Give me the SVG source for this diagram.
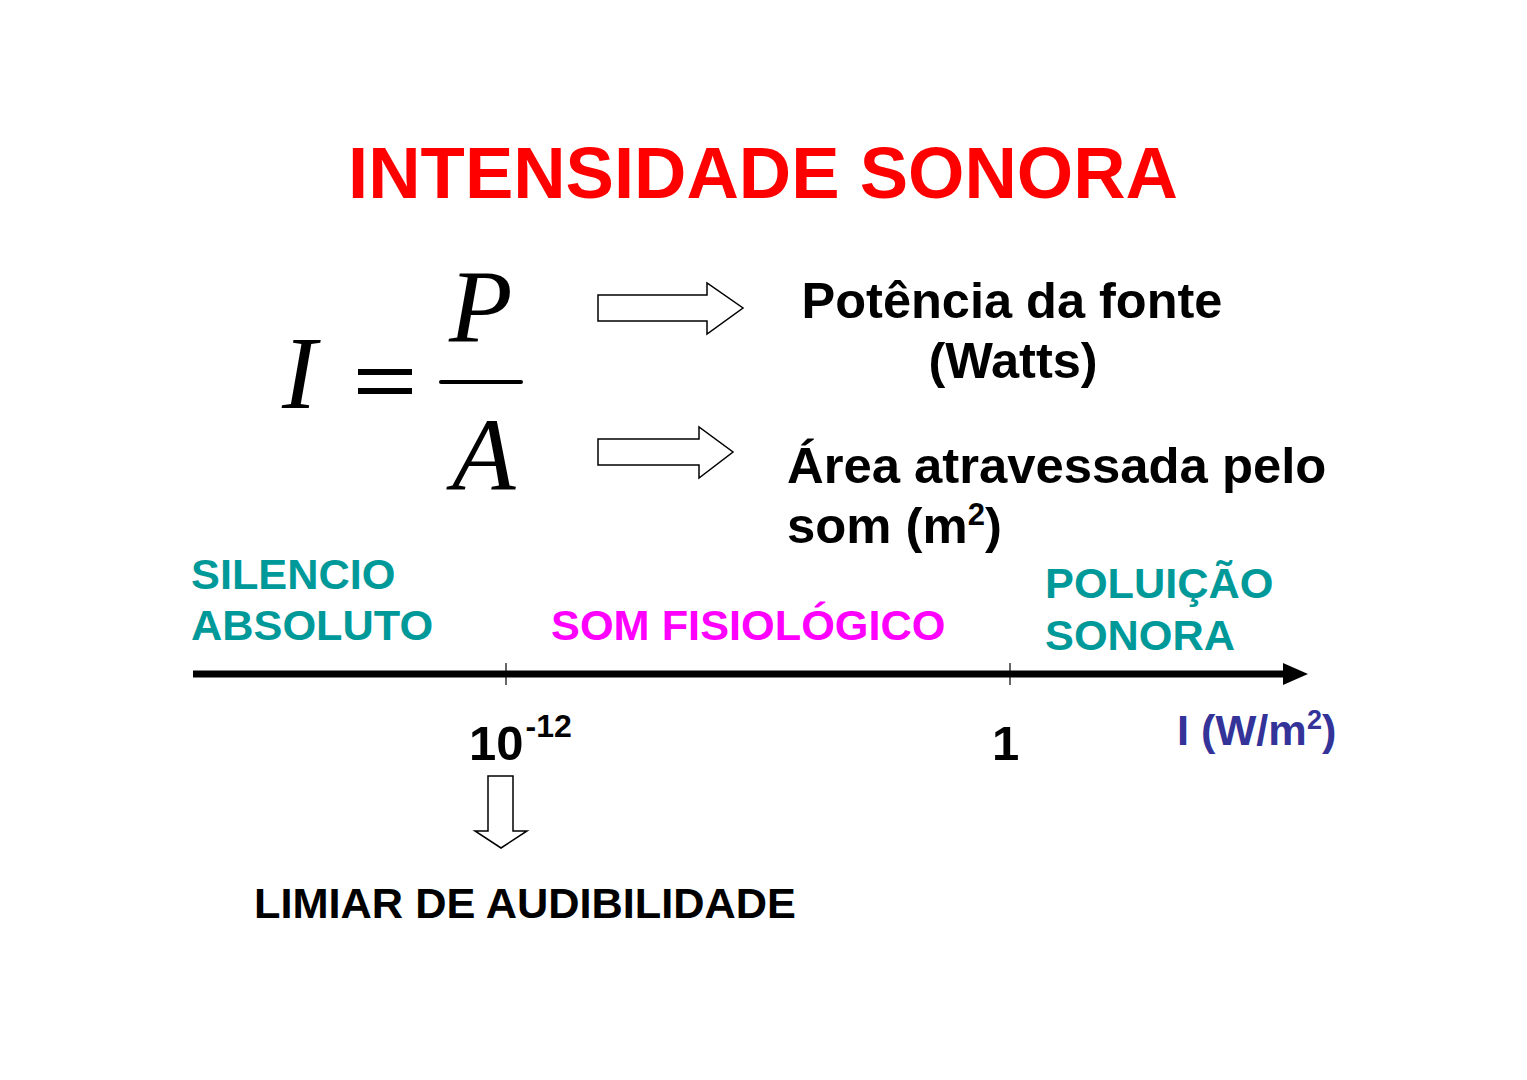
<svg xmlns="http://www.w3.org/2000/svg" width="1527" height="1080" viewBox="0 0 1527 1080">
<style>
.b{font-family:"Liberation Sans",Arial,sans-serif;font-weight:bold}
.m{font-family:"Liberation Serif","Times New Roman",serif;font-style:italic}
.hol{fill:#fff;stroke:#000;stroke-width:1.5}
.teal{fill:#009999}
</style>
<rect width="1527" height="1080" fill="#fff"/>
<g id="title"><text class="b" x="763" y="198" font-size="72.5" fill="#ff0000" text-anchor="middle">INTENSIDADE SONORA</text></g>
<g id="formula">
<text class="m" x="282" y="408" font-size="104">I</text>
<rect x="358" y="369" width="54" height="6" fill="#000"/>
<rect x="358" y="388" width="54" height="6" fill="#000"/>
<rect x="439" y="380" width="84" height="4" rx="2" fill="#000"/>
<text class="m" x="449" y="342" font-size="104">P</text>
<text class="m" x="452" y="490" font-size="104">A</text>
</g>
<g id="connectors">
<polygon class="hol" points="598,295 707,295 707,283 743,308 707,334 707,321 598,321"/>
<polygon class="hol" points="598,439 699,439 699,427 733,452 699,478 699,465 598,465"/>
<line x1="193" y1="674" x2="1286" y2="674" stroke="#000" stroke-width="7"/>
<polygon points="1283,663 1308,674 1283,685" fill="#000"/>
<line x1="506" y1="663" x2="506" y2="685" stroke="#000" stroke-width="1.2"/>
<line x1="1010" y1="663" x2="1010" y2="685" stroke="#000" stroke-width="1.2"/>
<polygon class="hol" points="488,776 513,776 513,831 527,831 501,848 475,831 488,831"/>
</g>
<g id="potencia"><text class="b" font-size="50.5" text-anchor="middle"><tspan x="1012" y="318">Potência da fonte</tspan><tspan x="1013" y="378">(Watts)</tspan></text></g>
<g id="area"><text class="b" font-size="50.8"><tspan x="787" y="483">Área atravessada pelo</tspan><tspan x="787" y="543">som (m<tspan font-size="31" dy="-18">2</tspan><tspan dy="18">)</tspan></tspan></text></g>
<g id="silencio"><text class="b teal" font-size="43.3"><tspan x="191" y="589">SILENCIO</tspan><tspan x="191" y="640">ABSOLUTO</tspan></text></g>
<g id="fisiologico"><text class="b" font-size="43.3" fill="#ff00ff" x="551" y="640">SOM FISIOLÓGICO</text></g>
<g id="poluicao"><text class="b teal" font-size="43.3"><tspan x="1045" y="598">POLUIÇÃO</tspan><tspan x="1045" y="650">SONORA</tspan></text></g>
<g id="tick1"><text class="b" font-size="49" x="469" y="760">10<tspan font-size="32" dx="2" dy="-23">-12</tspan></text></g>
<g id="tick2"><text class="b" font-size="49" x="992" y="760">1</text></g>
<g id="unit"><text class="b" font-size="43.3" fill="#333399" x="1177" y="745">I (W/m<tspan font-size="27" dy="-16">2</tspan><tspan dy="16">)</tspan></text></g>
<g id="limiar"><text class="b" font-size="43.3" x="254" y="918">LIMIAR DE AUDIBILIDADE</text></g>
</svg>
